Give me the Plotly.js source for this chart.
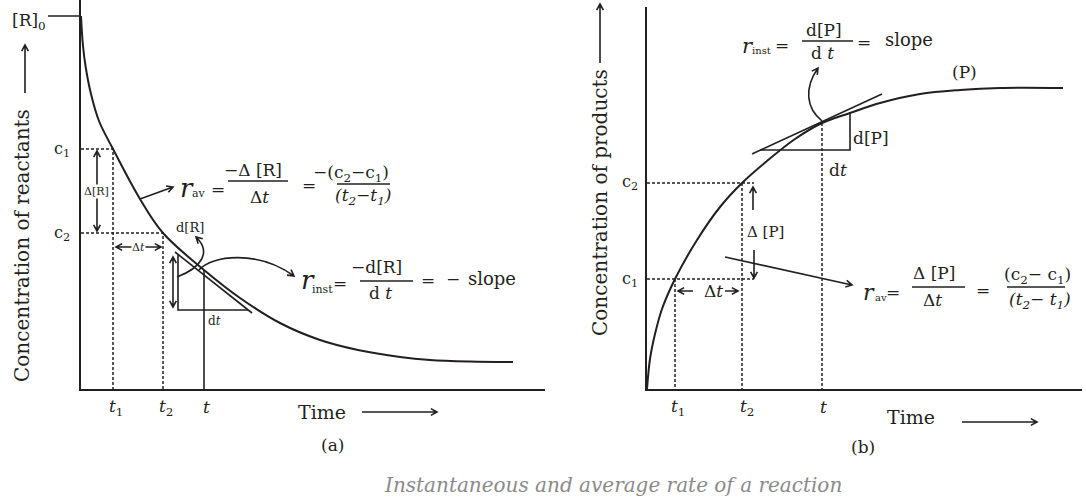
<!DOCTYPE html>
<html>
<head>
<meta charset="utf-8">
<script src="https://cdn.plot.ly/plotly-3.0.1.min.js"></script>
<style>html,body{margin:0;padding:0;background:#fff;}#chart{width:1086px;height:504px;}</style>
</head>
<body>
<div id="chart"></div>
<script>
// ---------- data ----------
// Panel (a): concentration of reactants vs time
const timeA = [0, 2, 5, 10, 18, 32, 59, 82, 123, 159, 199, 239, 277, 319, 349, 389, 432];
const concA = [373, 343, 320, 295, 268, 240, 190, 156, 119, 91, 66, 49, 39, 32, 29, 27.5, 27];
const markTimesA = [32, 82, 123];            // t1, t2, t
const tangentAx = [94, 171];
const tangentAy = [137, 76];
const triangleAx = [97, 97, 167];
const triangleAy = [134, 79, 79];

// Panel (b): concentration of products vs time
const timeB = [0, 3, 8, 15, 28, 50, 73, 95, 120, 148, 175, 203, 233, 273, 313, 353, 416];
const concB = [0, 30, 55, 80, 110, 149, 182, 206, 228, 250, 266, 276, 286, 295, 299, 301, 301];
const markTimesB = [28, 95, 175];            // t1, t2, t
const tangentBx = [105, 235];
const tangentBy = [235, 295];
const triangleBx = [113, 203, 203];
const triangleBy = [239, 239, 277];

const tickLabelsT = ['<i>t</i><sub>1</sub>', '<i>t</i><sub>2</sub>', '<i>t</i>'];
const tickLabelsC = ['c<sub>1</sub>', 'c<sub>2</sub>'];

// ---------- helpers ----------
const W = 1086, H = 504;
const INK = '#231f20';
const FONT = 'DejaVu Serif';
const X = px => px / W;
const Y = py => 1 - py / H;
const P = (px, py) => X(px).toFixed(5) + ',' + Y(py).toFixed(5);
const valAt = (ts, cs, t) => cs[ts.indexOf(t)];

function headPath(x2, y2, dx, dy) {
  const L = 7, a = 0.5, ang = Math.atan2(dy, dx);
  const p1 = [x2 - L * Math.cos(ang - a), y2 - L * Math.sin(ang - a)];
  const p2 = [x2 - L * Math.cos(ang + a), y2 - L * Math.sin(ang + a)];
  return ' M' + P(p1[0], p1[1]) + ' L' + P(x2, y2) + ' L' + P(p2[0], p2[1]);
}
function arrow(x1, y1, x2, y2, both, w) {
  let path = 'M' + P(x1, y1) + ' L' + P(x2, y2) + headPath(x2, y2, x2 - x1, y2 - y1);
  if (both) path += headPath(x1, y1, x1 - x2, y1 - y2);
  return {type: 'path', xref: 'paper', yref: 'paper', path, fillcolor: 'rgba(0,0,0,0)',
          line: {color: INK, width: w || 1.6}};
}
function curveArrow(p0, c1, c2, p3) {
  const path = 'M' + P(p0[0], p0[1]) + ' C' + P(c1[0], c1[1]) + ' ' + P(c2[0], c2[1]) + ' ' + P(p3[0], p3[1]) +
               headPath(p3[0], p3[1], p3[0] - c2[0], p3[1] - c2[1]);
  return {type: 'path', xref: 'paper', yref: 'paper', path, fillcolor: 'rgba(0,0,0,0)',
          line: {color: INK, width: 1.6}};
}
function bar(x1, x2, y) {
  return {type: 'line', xref: 'paper', yref: 'paper', x0: X(x1), x1: X(x2), y0: Y(y), y1: Y(y),
          line: {color: INK, width: 1.5}};
}
function T(px, py, text, size, extra) {
  return Object.assign({xref: 'paper', yref: 'paper', x: X(px), y: Y(py), text, showarrow: false,
    xanchor: 'center', yanchor: 'middle', borderpad: 0,
    font: {family: FONT, size: size, color: INK}}, extra || {});
}

// ---------- derived values ----------
const [t1A, t2A, tA] = markTimesA;
const c1A = valAt(timeA, concA, t1A), c2A = valAt(timeA, concA, t2A), cTA = valAt(timeA, concA, tA);
const [t1B, t2B, tB] = markTimesB;
const c1B = valAt(timeB, concB, t1B), c2B = valAt(timeB, concB, t2B), cTB = valAt(timeB, concB, tB);

const solid = {color: INK, width: 1.6};
const dashed = {color: INK, width: 1.5, dash: '3px,2px'};
function tr(x, y, line, ax) {
  return {x, y, mode: 'lines', line, hoverinfo: 'skip', showlegend: false,
          xaxis: ax === 2 ? 'x2' : 'x', yaxis: ax === 2 ? 'y2' : 'y'};
}

const traces = [
  // panel a
  tr(timeA, concA, {color: INK, width: 2, shape: 'spline', smoothing: 1}, 1),
  tr([0, t1A, t1A], [c1A, c1A, 0], dashed, 1),
  tr([0, t2A, t2A], [c2A, c2A, 0], dashed, 1),
  tr([tA, tA], [cTA, 0], solid, 1),
  tr(tangentAx, tangentAy, solid, 1),
  tr(triangleAx, triangleAy, solid, 1),
  // panel b
  tr(timeB, concB, {color: INK, width: 2, shape: 'spline', smoothing: 1}, 2),
  tr([0, t2B + 12], [c1B, c1B], dashed, 2),
  tr([t1B, t1B], [c1B, 0], dashed, 2),
  tr([0, t2B + 12], [c2B, c2B], dashed, 2),
  tr([t2B, t2B], [c2B, 0], dashed, 2),
  tr([tB, tB], [cTB, 0], dashed, 2),
  tr(tangentBx, tangentBy, solid, 2),
  tr(triangleBx, triangleBy, solid, 2)
];

const axisBase = {showline: true, linewidth: 2, linecolor: INK, showgrid: false, zeroline: false,
                  showticklabels: false, ticks: '', fixedrange: true};

const shapes = [
  // [R]0 tick
  {type: 'line', xref: 'paper', yref: 'y', x0: X(48), x1: X(81), y0: concA[0], y1: concA[0], line: {color: INK, width: 1.6}},
  // panel a arrows
  arrow(25, 93, 25, 45),
  arrow(97, 151, 97, 231, true),
  arrow(116, 247, 161, 247, true),
  arrow(140, 199, 173, 187),
  arrow(173, 257, 173, 307, true),
  curveArrow([177, 277], [201, 268], [212, 252], [196, 237]),
  curveArrow([199, 270], [212, 255], [258, 250], [294, 276]),
  arrow(362, 412, 437, 412),
  bar(228, 288, 181), bar(337, 390, 184), bar(360, 413, 281),
  // panel b arrows
  arrow(600, 63, 600, 4),
  arrow(753, 210, 753, 187),
  arrow(754, 250, 754, 278),
  arrow(693, 291, 678, 291),
  arrow(725, 291, 738, 291),
  arrow(725, 257, 852, 285),
  curveArrow([822, 121], [806, 108], [804, 88], [818, 68]),
  arrow(962, 422, 1037, 422),
  bar(802, 853, 41), bar(912, 965, 287), bar(1007, 1065, 287)
];

const annotations = [
  // panel a
  T(29, 22, '[R]<sub>0</sub>', 17),
  T(22, 246, 'Concentration of reactants', 20, {textangle: -90}),
  Object.assign(T(62, 0, tickLabelsC[0], 16), {yref: 'y', y: c1A}),
  Object.assign(T(62, 0, tickLabelsC[1], 16), {yref: 'y', y: c2A}),
  T(96, 191, 'Δ[R]', 11, {bgcolor: '#ffffff'}),
  T(138, 247, 'Δ<i>t</i>', 11, {bgcolor: '#ffffff'}),
  Object.assign(T(0, 407, tickLabelsT[0], 17), {xref: 'x', x: t1A + 3}),
  Object.assign(T(0, 407, tickLabelsT[1], 17), {xref: 'x', x: t2A + 3}),
  Object.assign(T(0, 407, tickLabelsT[2], 17), {xref: 'x', x: tA + 2}),
  T(322, 412, 'Time', 19),
  T(332, 445, '(a)', 17),
  T(187, 188, '<i>r</i>', 26),
  T(199, 194, 'av', 11),
  T(218, 189, '=', 17),
  T(253, 170, '−Δ [R]', 17),
  T(259, 197, 'Δ<i>t</i>', 17),
  T(309, 185, '=', 17),
  T(351, 173, '−(c<sub>2</sub>−c<sub>1</sub>)', 17),
  T(363, 197, '<i>(t<sub>2</sub>−t<sub>1</sub>)</i>', 17),
  T(190, 228, 'd[R]', 13),
  T(214, 321, 'd<i>t</i>', 12),
  T(308, 280, '<i>r</i>', 26),
  T(322, 289, 'inst', 11),
  T(340, 283, '=', 17),
  T(376, 267, '−d[R]', 17),
  T(380, 293, 'd <i>t</i>', 17),
  T(428, 280, '=', 17),
  T(453, 279, '−', 17),
  T(492, 278, 'slope', 18),
  // panel b
  T(600, 203, 'Concentration of products', 20, {textangle: -90}),
  Object.assign(T(630, 0, tickLabelsC[0], 16), {yref: 'y2', y: c1B}),
  Object.assign(T(630, 0, tickLabelsC[1], 16), {yref: 'y2', y: c2B}),
  Object.assign(T(0, 407, tickLabelsT[0], 17), {xref: 'x2', x: t1B + 3}),
  Object.assign(T(0, 407, tickLabelsT[1], 17), {xref: 'x2', x: t2B + 5}),
  Object.assign(T(0, 407, tickLabelsT[2], 17), {xref: 'x2', x: tB + 1}),
  T(765, 232, 'Δ [P]', 15),
  T(713, 291, 'Δ<i>t</i>', 17),
  T(869, 292, '<i>r</i>', 22),
  T(881, 297, 'av', 10),
  T(893, 292, '=', 17),
  T(934, 273, 'Δ [P]', 17),
  T(932, 300, 'Δ<i>t</i>', 17),
  T(983, 290, '=', 17),
  T(1037, 275, '(c<sub>2</sub>− c<sub>1</sub>)', 17),
  T(1040, 300, '<i>(t<sub>2</sub>− t<sub>1</sub>)</i>', 17),
  T(748, 46, '<i>r</i>', 21),
  T(761, 51, 'inst', 10),
  T(782, 45, '=', 17),
  T(824, 30, 'd[P]', 17),
  T(822, 53, 'd <i>t</i>', 17),
  T(864, 42, '=', 17),
  T(909, 40, 'slope', 18),
  T(964, 72, '(P)', 17),
  T(871, 138, 'd[P]', 17),
  T(838, 170, 'd<i>t</i>', 17),
  T(911, 417, 'Time', 19),
  T(863, 447, '(b)', 17),
  // caption
  T(613, 485, '<i>Instantaneous and average rate of a reaction</i>', 20, {font: {family: FONT, size: 20, color: '#8a8a8a'}})
];

const layout = {
  width: W, height: H, autosize: false,
  margin: {l: 0, r: 0, t: 0, b: 0, pad: 0},
  paper_bgcolor: '#ffffff', plot_bgcolor: 'rgba(0,0,0,0)',
  showlegend: false,
  xaxis: Object.assign({}, axisBase, {domain: [X(81), X(545)], range: [0, 464], anchor: 'y'}),
  yaxis: Object.assign({}, axisBase, {domain: [Y(389), Y(0)], range: [0, 389], anchor: 'x'}),
  xaxis2: Object.assign({}, axisBase, {domain: [X(647), X(1082)], range: [0, 435], anchor: 'y2'}),
  yaxis2: Object.assign({}, axisBase, {domain: [Y(389), Y(7)], range: [0, 382], anchor: 'x2'}),
  shapes, annotations
};

Plotly.newPlot('chart', traces, layout, {displayModeBar: false, staticPlot: true});
</script>
</body>
</html>
